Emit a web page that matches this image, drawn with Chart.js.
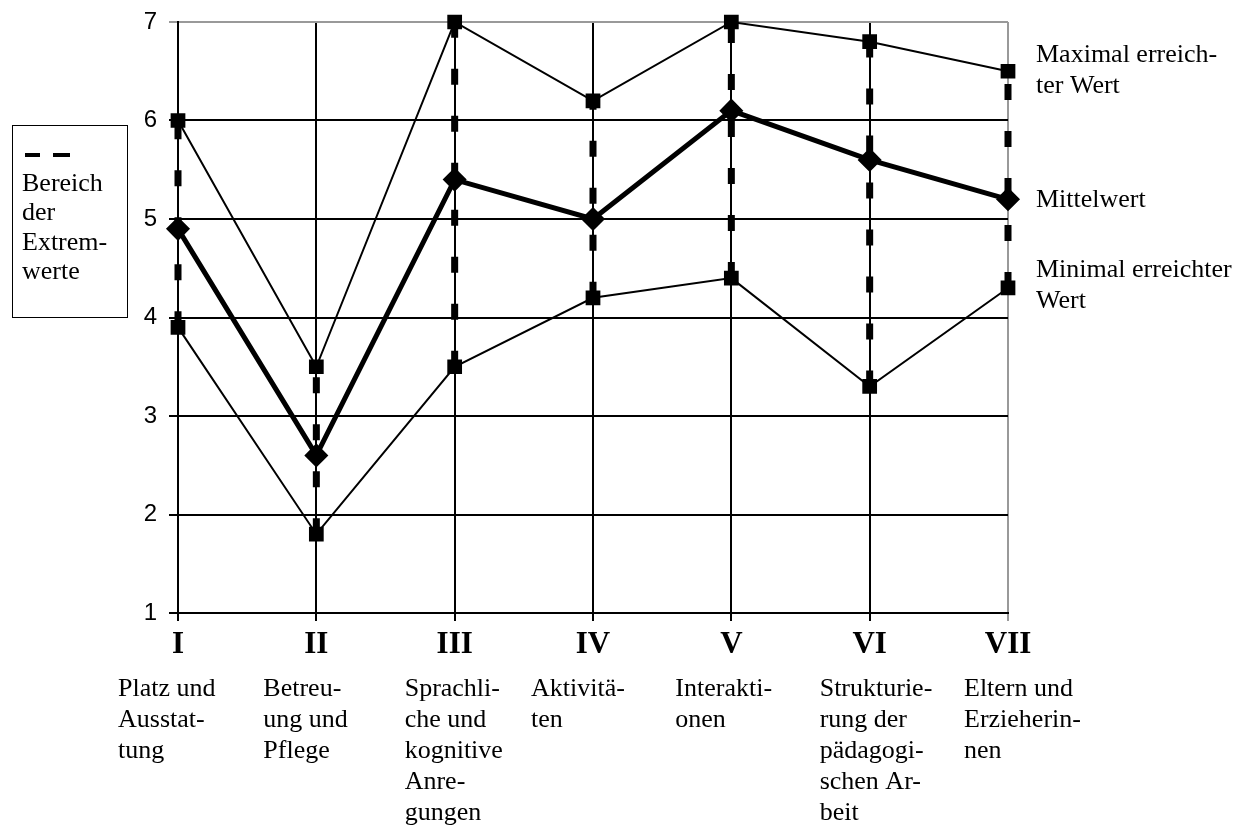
<!DOCTYPE html>
<html lang="de">
<head>
<meta charset="UTF-8">
<title>Bereiche und Mittelwerte</title>
<style>
    body { margin: 0; background: #fff; }
    canvas { display: block; }
</style>
<script src="https://cdn.jsdelivr.net/npm/chart.js"></script>
</head>
<body>
<canvas id="chart" width="1243" height="827"></canvas>
<script>
    const categories = ['I', 'II', 'III', 'IV', 'V', 'VI', 'VII'];
    const descriptions = [
        ['Platz und', 'Ausstat-', 'tung'],
        ['Betreu-', 'ung und', 'Pflege'],
        ['Sprachli-', 'che und', 'kognitive', 'Anre-', 'gungen'],
        ['Aktivitä-', 'ten'],
        ['Interakti-', 'onen'],
        ['Strukturie-', 'rung der', 'pädagogi-', 'schen Ar-', 'beit'],
        ['Eltern und', 'Erzieherin-', 'nen']
    ];
    const maxValues  = [6.0, 3.5, 7.0, 6.2, 7.0, 6.8, 6.5];
    const meanValues = [4.9, 2.6, 5.4, 5.0, 6.1, 5.6, 5.2];
    const minValues  = [3.9, 1.8, 3.5, 4.2, 4.4, 3.3, 4.3];
    const yTicks = [1, 2, 3, 4, 5, 6, 7];

    // where each description block starts, relative to its category
    const descShift = [-60, -53, -50, -62, -56, -50, -44];

    const serif = '"Liberation Serif", "Times New Roman", serif';
    const sans = '"Liberation Sans", Arial, sans-serif';

    // dashed range line (min to max) for every category
    const rangeSets = categories.map((c, i) => ({
        label: 'Bereich ' + c,
        data: [{ x: c, y: minValues[i] }, { x: c, y: maxValues[i] }],
        borderColor: '#000',
        borderWidth: 7,
        borderDash: [16, 31],
        borderCapStyle: 'butt',
        pointRadius: 0,
        clip: false
    }));

    const extras = {
        id: 'extras',
        afterDraw(chart) {
            const ctx = chart.ctx;
            const xs = chart.scales.x;
            ctx.save();
            ctx.fillStyle = '#000';
            ctx.textBaseline = 'middle';

            // category descriptions under the numerals
            ctx.font = '26px ' + serif;
            ctx.textAlign = 'left';
            descriptions.forEach((lines, i) => {
                const x = xs.getPixelForValue(i) + descShift[i];
                lines.forEach((t, j) => ctx.fillText(t, x, 689 + j * 31));
            });

            // labels on the right
            ctx.fillText('Maximal erreich-', 1036, 55);
            ctx.fillText('ter Wert', 1036, 86);
            ctx.fillText('Mittelwert', 1036, 200);
            ctx.fillText('Minimal erreichter', 1036, 270);
            ctx.fillText('Wert', 1036, 301);

            // box on the left
            ctx.strokeStyle = '#000';
            ctx.lineWidth = 1;
            ctx.strokeRect(12.5, 125.5, 115, 192);
            ctx.lineWidth = 4;
            ctx.beginPath();
            ctx.moveTo(25, 155); ctx.lineTo(40, 155);
            ctx.moveTo(53, 155); ctx.lineTo(70, 155);
            ctx.stroke();
            ['Bereich', 'der', 'Extrem-', 'werte'].forEach((t, j) => ctx.fillText(t, 22, 184 + j * 29.5));
            ctx.restore();
        }
    };

    new Chart(document.getElementById('chart'), {
        type: 'line',
        data: {
            labels: categories,
            datasets: [
                {
                    label: 'Mittelwert',
                    data: meanValues,
                    borderColor: '#000',
                    backgroundColor: '#000',
                    borderWidth: 5,
                    pointStyle: 'rectRot',
                    pointRadius: 8.5,
                    clip: false
                },
                {
                    label: 'Maximal erreichter Wert',
                    data: maxValues,
                    borderColor: '#000',
                    backgroundColor: '#000',
                    borderWidth: 2,
                    pointStyle: 'rect',
                    pointRadius: 9,
                    clip: false
                },
                {
                    label: 'Minimal erreichter Wert',
                    data: minValues,
                    borderColor: '#000',
                    backgroundColor: '#000',
                    borderWidth: 2,
                    pointStyle: 'rect',
                    pointRadius: 9,
                    clip: false
                },
                ...rangeSets
            ]
        },
        options: {
            responsive: false,
            animation: false,
            layout: { padding: { left: 0, top: 22, right: 235, bottom: 0 } },
            plugins: { legend: { display: false }, tooltip: { enabled: false } },
            elements: { line: { tension: 0 } },
            scales: {
                x: {
                    type: 'category',
                    offset: false,
                    afterFit(s) { s.height = 827 - 613; },
                    grid: {
                        color: c => c.index === categories.length - 1 ? '#999' : '#000',
                        lineWidth: 2,
                        tickLength: 8
                    },
                    border: { color: '#000', width: 2 },
                    ticks: {
                        color: '#000',
                        padding: 5,
                        maxRotation: 0,
                        autoSkip: false,
                        font: { family: serif, size: 31, weight: 'bold' }
                    }
                },
                y: {
                    min: 1,
                    max: 7,
                    afterFit(s) {
                        s.width = 178;
                        s.paddingTop = 0;
                        s.paddingBottom = 0;
                    },
                    afterBuildTicks(s) { s.ticks = yTicks.map(v => ({ value: v })); },
                    grid: {
                        color: c => c.tick && c.tick.value === 7 ? '#999' : '#000',
                        lineWidth: 2,
                        tickLength: 9
                    },
                    border: { color: '#000', width: 2 },
                    ticks: {
                        color: '#000',
                        padding: 12,
                        font: { family: sans, size: 24 }
                    }
                }
            }
        },
        plugins: [extras]
    });
</script>
</body>
</html>
